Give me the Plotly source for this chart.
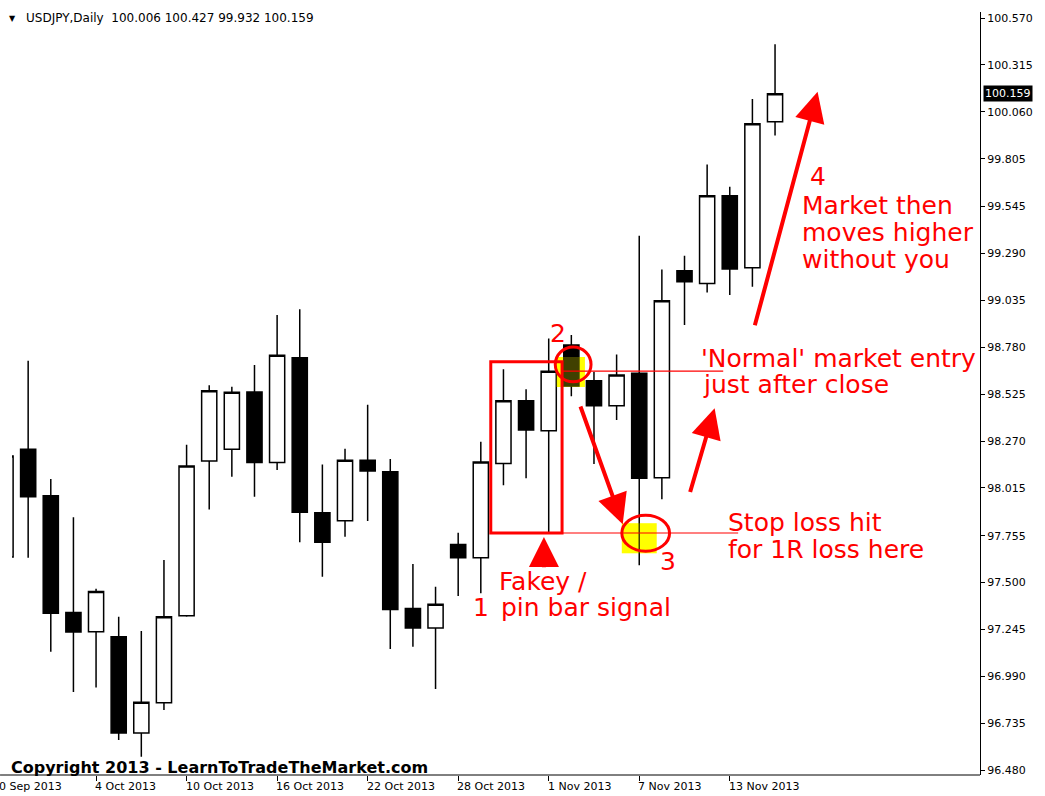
import plotly.graph_objects as go

# ---------------- data (USDJPY daily, 30 Sep 2013 .. 15 Nov 2013) ----------------
bar_index = list(range(35))
opens  = [97.639, 98.226, 97.972, 97.338, 97.233, 97.206, 96.683, 96.847, 97.320, 98.161,
          98.225, 98.536, 98.153, 98.723, 97.880, 97.836, 98.165, 98.103, 97.360, 97.254,
          97.708, 97.635, 98.148, 98.489, 98.326, 98.792, 98.598, 98.462, 98.638, 98.070,
          99.196, 99.127, 99.604, 99.212, 100.006]
highs  = [98.188, 98.706, 98.063, 97.855, 97.467, 97.314, 97.237, 97.623, 98.250, 98.574,
          98.565, 98.683, 98.955, 98.986, 98.143, 98.228, 98.467, 98.173, 97.601, 97.477,
          97.771, 98.266, 98.660, 98.551, 98.828, 98.846, 98.647, 98.741, 99.386, 99.203,
          99.277, 99.774, 99.653, 100.130, 100.427]
lows   = [97.639, 97.635, 97.124, 96.906, 96.930, 96.644, 96.553, 96.807, 97.315, 97.898,
          98.076, 97.967, 98.112, 97.719, 97.532, 97.749, 97.835, 97.139, 97.151, 96.921,
          97.427, 97.442, 98.030, 98.067, 97.770, 98.514, 98.145, 98.384, 97.595, 97.953,
          98.901, 99.078, 99.064, 99.109, 99.932]
closes = [98.188, 97.967, 97.333, 97.231, 97.452, 96.683, 96.849, 97.314, 98.134, 98.543,
          98.535, 98.153, 98.736, 97.883, 97.719, 98.165, 98.107, 97.354, 97.254, 97.383,
          97.635, 98.156, 98.489, 98.330, 98.650, 98.569, 98.462, 98.629, 98.067, 99.033,
          99.136, 99.604, 99.205, 99.995, 100.159]

date_tick_index = [4, 8, 12, 16, 20, 24, 28, 32]
date_tick_text = ["4 Oct 2013", "10 Oct 2013", "16 Oct 2013", "22 Oct 2013",
                  "28 Oct 2013", "1 Nov 2013", "7 Nov 2013", "13 Nov 2013"]
price_ticks = [100.570, 100.315, 100.060, 99.805, 99.545, 99.290, 99.035, 98.780, 98.525,
               98.270, 98.015, 97.755, 97.500, 97.245, 96.990, 96.735, 96.480]

title_text = "USDJPY,Daily  100.006 100.427 99.932 100.159"
last_price = 100.159

PIN = 24  # the fakey / pin bar candle
pin_close = closes[PIN]
pin_low = lows[PIN]

RED = "#ff0000"
FONT = "DejaVu Sans"

fig = go.Figure()
fig.add_trace(go.Candlestick(
    x=bar_index, open=opens, high=highs, low=lows, close=closes,
    increasing=dict(line=dict(color="black", width=1.5), fillcolor="white"),
    decreasing=dict(line=dict(color="black", width=1.5), fillcolor="black"),
    whiskerwidth=0, showlegend=False, hoverinfo="skip",
))

L, R, T, B = 12, 60, 12, 21
W, H = 1045, 796
PW = W - L - R
PH = H - T - B

def py(pix):
    """paper y for a pixel row"""
    return (H - B - pix) / PH

shapes = []
# bottom border extends to the left image edge
shapes.append(dict(type="line", xref="paper", yref="paper", x0=-L / PW, x1=1, y0=0, y1=0,
                   line=dict(color="black", width=1)))
# yellow highlights (below candles) and a translucent overlay
for x0, x1, y0, y1 in [(24.33, 25.60, 98.564, 98.727), (27.23, 28.77, 97.660, 97.823)]:
    shapes.append(dict(type="rect", xref="x", yref="y", x0=x0, x1=x1, y0=y0, y1=y1,
                       fillcolor="#ffff00", line=dict(width=0), layer="below"))
    shapes.append(dict(type="rect", xref="x", yref="y", x0=x0, x1=x1, y0=y0, y1=y1,
                       fillcolor="rgba(255,255,0,0.25)", line=dict(width=0), layer="above"))
# fakey box
shapes.append(dict(type="rect", xref="x", yref="y", x0=21.44, x1=24.59, y0=pin_low, y1=98.701,
                   line=dict(color=RED, width=3)))
# entry and stop lines
shapes.append(dict(type="line", xref="x", yref="y", x0=24.59, x1=31.71, y0=pin_close, y1=pin_close,
                   line=dict(color=RED, width=1.2)))
shapes.append(dict(type="line", xref="x", yref="y", x0=24.59, x1=32.37, y0=pin_low, y1=pin_low,
                   line=dict(color=RED, width=1.2)))
# ellipses
shapes.append(dict(type="circle", xref="x", yref="y", x0=24.29, x1=25.87, y0=98.592, y1=98.781,
                   line=dict(color=RED, width=3)))
shapes.append(dict(type="circle", xref="x", yref="y", x0=27.23, x1=29.34, y0=97.671, y1=97.867,
                   line=dict(color=RED, width=3)))

ann = []
# arrows (tip x,y ; tail ax, ay)
for (x, y, ax, ay) in [(27.27, 97.818, 25.38, 98.466),
                       (23.79, 97.748, 23.79, 97.575),
                       (31.33, 98.448, 30.23, 97.985),
                       (35.88, 100.169, 33.09, 98.891)]:
    ann.append(dict(x=x, y=y, ax=ax, ay=ay, xref="x", yref="y", axref="x", ayref="y",
                    text="", showarrow=True, arrowhead=2, arrowsize=1.5, arrowwidth=4,
                    arrowcolor=RED, standoff=0))

def label(x, y, text, size=25, anchor="left"):
    ann.append(dict(x=x, y=y, xref="x", yref="y", text=text, showarrow=False,
                    xanchor=anchor, yanchor="middle",
                    font=dict(family=FONT, size=size, color=RED)))

label(24.42, 98.857, "2", anchor="center")
label(29.25, 97.617, "3", anchor="center")
label(35.89, 99.711, "4", anchor="center")
label(35.1, 99.553, "Market then")
label(35.1, 99.406, "moves higher")
label(35.1, 99.259, "without you")
label(30.65, 98.721, "'Normal' market entry")
label(30.75, 98.580, "just after close")
label(31.85, 97.829, "Stop loss hit")
label(31.85, 97.682, "for 1R loss here")
label(21.7, 97.508, "Fakey /")
label(20.55, 97.367, "1")
label(21.8, 97.367, "pin bar signal")

# date labels (left aligned at tick)
for i, t in zip(date_tick_index, date_tick_text):
    ann.append(dict(x=i, y=0, xref="x", yref="paper", text=t, showarrow=False,
                    xanchor="left", yanchor="top", yshift=-3, xshift=-3,
                    font=dict(family=FONT, size=11, color="black")))
ann.append(dict(x=-L / PW, y=0, xref="paper", yref="paper", text="0 Sep 2013", showarrow=False,
                xanchor="left", yanchor="top", yshift=-3, xshift=-3,
                font=dict(family=FONT, size=11, color="black")))

# title & copyright
ann.append(dict(x=0, y=py(18), xref="paper", yref="paper", text="▼", showarrow=False,
                xanchor="center", yanchor="middle",
                font=dict(family=FONT, size=8, color="black")))
ann.append(dict(x=(24 - L) / PW, y=py(18), xref="paper", yref="paper",
                text=title_text, showarrow=False, xanchor="left", yanchor="middle",
                font=dict(family=FONT, size=12, color="black")))
ann.append(dict(x=0, y=py(767), xref="paper", yref="paper",
                text="<b>Copyright 2013 - LearnToTradeTheMarket.com</b>", showarrow=False,
                xanchor="left", yanchor="middle", xshift=-3,
                font=dict(family=FONT, size=16, color="black")))
# last price marker
ann.append(dict(x=1, y=last_price, xref="paper", yref="y", text=f"{last_price:.3f}",
                showarrow=False, xanchor="left", yanchor="middle", xshift=3,
                bgcolor="black", borderpad=1,
                font=dict(family=FONT, size=11, color="white")))

fig.update_layout(
    width=W, height=H, margin=dict(l=L, r=R, t=T, b=B),
    paper_bgcolor="white", plot_bgcolor="white",
    boxgap=0.33, boxgroupgap=0,
    shapes=shapes, annotations=ann, showlegend=False,
    xaxis=dict(range=[0.286, 43.056], rangeslider=dict(visible=False), showgrid=False,
               zeroline=False, showline=False, tickvals=date_tick_index, ticks="outside",
               ticklen=5, tickcolor="black", showticklabels=False, fixedrange=True),
    yaxis=dict(side="right", range=[96.454, 100.603], showgrid=False, zeroline=False,
               showline=True, linecolor="black", linewidth=1, mirror=False,
               tickvals=price_ticks, ticktext=[f"{v:.3f}" for v in price_ticks],
               ticks="outside", ticklen=4, tickcolor="black",
               tickfont=dict(family=FONT, size=11, color="black")),
)

fig.write_html("out.html", config={"displayModeBar": False},
               post_script="document.body.style.margin='0px';")
